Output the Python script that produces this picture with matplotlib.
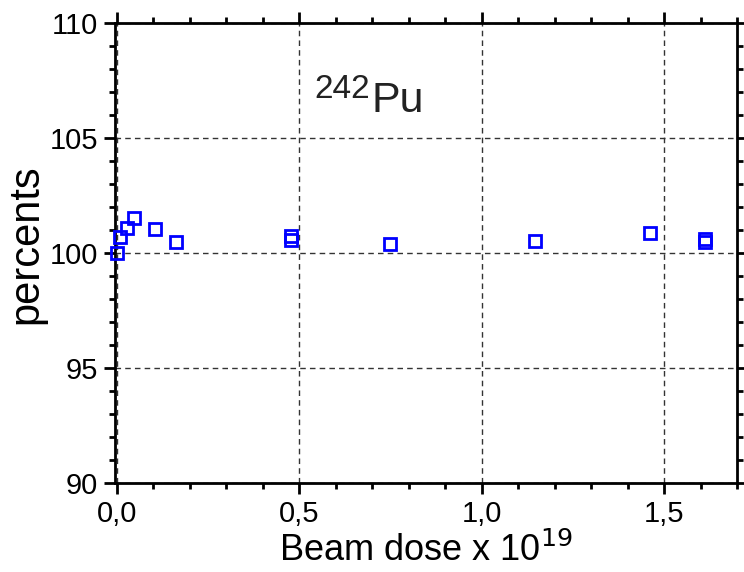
import matplotlib
matplotlib.use("Agg")
import matplotlib.pyplot as plt
from matplotlib.ticker import MultipleLocator, FuncFormatter

plt.rcParams['font.family'] = ['Liberation Sans', 'DejaVu Sans']

# beam dose (x 10^19) and relative yield in percent
dose = [0.0, 0.008, 0.028, 0.047, 0.105, 0.161, 0.477, 0.477,
        0.749, 1.145, 1.462, 1.611, 1.611]
percents = [100.0, 100.7, 101.1, 101.53, 101.03, 100.47, 100.72, 100.57,
            100.39, 100.52, 100.86, 100.63, 100.47]

x_ticks = [0.0, 0.5, 1.0, 1.5]
y_ticks = [90, 95, 100, 105, 110]

fig = plt.figure(figsize=(7.44, 5.72), dpi=100)
ax = fig.add_axes([0.1546, 0.1556, 0.836, 0.8042])

ax.plot(dose, percents, linestyle='none', marker='s', markersize=9,
        markerfacecolor='none', markeredgecolor='#0000ff', markeredgewidth=2,
        zorder=5, clip_on=False)

ax.set_xlim(-0.005, 1.7)
ax.set_ylim(90, 110)
ax.set_xticks(x_ticks)
ax.set_yticks(y_ticks)
ax.xaxis.set_minor_locator(MultipleLocator(0.1))
ax.yaxis.set_minor_locator(MultipleLocator(1))
ax.xaxis.set_major_formatter(FuncFormatter(lambda v, p: f"{v:.1f}".replace('.', ',')))

ax.grid(True, which='major', linestyle=(0, (4, 3)), color='#333333', linewidth=1)
ax.set_axisbelow(True)

for s in ax.spines.values():
    s.set_linewidth(2)

ax.tick_params(which='both', direction='out', top=True, right=True,
               labelsize=21, width=2)
ax.tick_params(which='major', length=8, pad=4)
ax.tick_params(which='minor', length=4)

ax.set_xlabel(r"Beam dose x 10$^{19}$", fontsize=26, labelpad=4)
ax.set_ylabel("percents", fontsize=30)
ax.yaxis.set_label_coords(-0.11, 0.52)

ax.text(0.41, 0.838, "242", transform=ax.transAxes, fontsize=24,
        color='#222222', ha='right', va='baseline')
ax.text(0.412, 0.807, "Pu", transform=ax.transAxes, fontsize=31,
        color='#222222', ha='left', va='baseline')

fig.savefig("out.png", dpi=100)
